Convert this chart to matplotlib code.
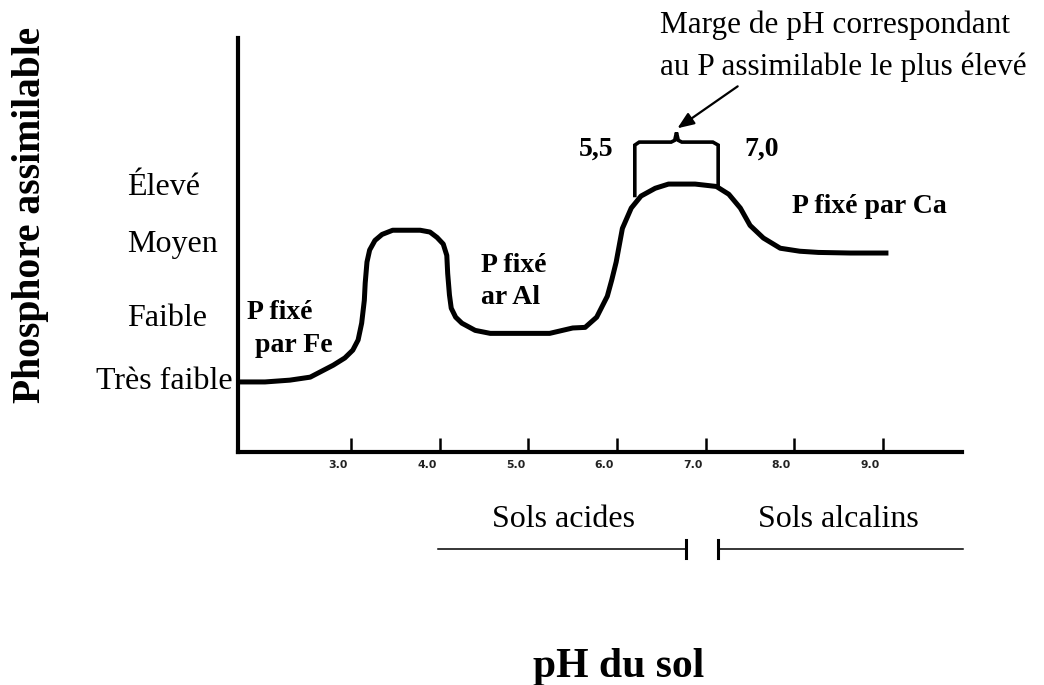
import numpy as np
import matplotlib
matplotlib.use("Agg")
from matplotlib import pyplot as plt
from matplotlib import transforms

plt.rcParams['font.family'] = ['Liberation Serif', 'DejaVu Serif']

# curve: pH vs available phosphorus level
ph = [1.73, 2.03, 2.31, 2.54, 2.80, 2.93, 3.02, 3.08, 3.12, 3.15, 3.16, 3.18, 3.21,
      3.27, 3.35, 3.47, 3.78, 3.89, 3.97, 4.04, 4.08, 4.09, 4.11, 4.13, 4.18, 4.25,
      4.40, 4.57, 5.24, 5.50, 5.64, 5.77, 5.89, 5.94, 5.99, 6.06, 6.16, 6.27, 6.43,
      6.58, 6.88, 7.12, 7.26, 7.39, 7.50, 7.65, 7.84, 8.06, 8.27, 8.63, 9.06]
phos = [1.17, 1.17, 1.20, 1.25, 1.45, 1.57, 1.70, 1.87, 2.15, 2.53, 2.82, 3.17, 3.37,
        3.53, 3.63, 3.70, 3.70, 3.67, 3.58, 3.47, 3.28, 2.98, 2.62, 2.40, 2.25, 2.15,
        2.03, 1.98, 1.98, 2.07, 2.08, 2.25, 2.60, 2.87, 3.17, 3.73, 4.07, 4.27, 4.40,
        4.47, 4.47, 4.43, 4.30, 4.07, 3.78, 3.57, 3.40, 3.35, 3.33, 3.32, 3.32]

# axis labels
xticks = [3, 4, 5, 6, 7, 8, 9]
xticklabels = ['3.0', '4.0', '5.0', '6.0', '7.0', '8.0', '9.0']
levels = ['Très faible', 'Faible', 'Moyen', 'Élevé']
level_y = [1.17, 2.23, 3.46, 4.41]

# optimal pH range bracket
opt_lo, opt_hi = 6.20, 7.14

fig = plt.figure(figsize=(10.44, 6.85), dpi=100)
ax = fig.add_axes([0.228, 0.340, 0.6935, 0.604])
ax.set_xlim(1.726, 9.89)
ax.set_ylim(0, 6.9)

for s in ['top', 'right']:
    ax.spines[s].set_visible(False)
for s in ['left', 'bottom']:
    ax.spines[s].set_linewidth(3.0)

ax.plot(ph, phos, color='black', lw=3.6, solid_joinstyle='round', solid_capstyle='butt')

# x ticks pointing inward, labels shifted a bit left
ax.set_xticks(xticks)
ax.set_xticklabels(xticklabels, fontfamily='DejaVu Sans', fontweight='bold',
                   fontsize=7.8, color='#222222')
ax.tick_params(axis='x', direction='in', length=10, width=1.8, pad=6)
shift = transforms.ScaledTranslation(-0.13, 0, fig.dpi_scale_trans)
for lab in ax.get_xticklabels():
    lab.set_transform(lab.get_transform() + shift)
ax.set_yticks([])

# level labels on the y side
blend = transforms.blended_transform_factory(fig.transFigure, ax.transData)
for name, yv in zip(levels, level_y):
    if name == 'Très faible':
        ax.text(0.2225, yv, name, transform=blend, ha='right', va='center', fontsize=23)
    else:
        ax.text(0.1215, yv, name, transform=blend, ha='left', va='center', fontsize=23)

# zone labels
bold = dict(fontsize=20, fontweight='bold', va='center', ha='left')
ax.text(1.83, 2.32, 'P fixé', **bold)
ax.text(1.92, 1.78, 'par Fe', **bold)
ax.text(4.47, 3.12, 'P fixé', **bold)
ax.text(4.47, 2.58, 'ar Al', **bold)
ax.text(7.97, 4.10, 'P fixé par Ca', **bold)
ax.text(5.57, 5.05, '5,5', **bold)
ax.text(7.44, 5.05, '7,0', **bold)

# brace over the optimum
mid = (opt_lo + opt_hi) / 2
bx = [opt_lo, opt_lo, opt_lo + 0.05, mid - 0.06, mid - 0.02, mid, mid + 0.02, mid + 0.06,
      opt_hi - 0.06, opt_hi, opt_hi]
by = [4.28, 5.12, 5.17, 5.17, 5.20, 5.33, 5.20, 5.17, 5.17, 5.12, 4.43]
ax.plot(bx, by, color='black', lw=2.6, clip_on=False, solid_joinstyle='miter')

ax.annotate('', xy=(mid + 0.01, 5.40), xytext=(7.36, 6.10),
            arrowprops=dict(arrowstyle='-|>,head_length=1.0,head_width=0.4',
                            color='black', lw=1.6, shrinkA=0, shrinkB=0),
            annotation_clip=False)
fig.text(660 / 1044, 1 - 11 / 685,
         'Marge de pH correspondant\nau P assimilable le plus élevé',
         ha='left', va='top', fontsize=22.5, linespacing=1.55)

# acid / alkaline soils
ax.plot([3.98, 6.78], [-1.62, -1.62], color='black', lw=1.1, clip_on=False)
ax.plot([6.78, 6.78], [-1.77, -1.47], color='black', lw=2.2, clip_on=False)
ax.plot([7.14, 9.90], [-1.62, -1.62], color='black', lw=1.1, clip_on=False)
ax.plot([7.14, 7.14], [-1.77, -1.47], color='black', lw=2.2, clip_on=False)
ax.text(5.40, -1.13, 'Sols acides', ha='center', va='center', fontsize=23)
ax.text(8.49, -1.13, 'Sols alcalins', ha='center', va='center', fontsize=23)

# axis titles
fig.text(619 / 1044, 8 / 685, 'pH du sol', ha='center', va='baseline',
         fontsize=30, fontweight='bold')
fig.text(31 / 1044, 1 - 215 / 685, 'Phosphore assimilable', rotation=90,
         ha='center', va='center', fontsize=28.5, fontweight='bold')

fig.savefig('out.png', dpi=100)
